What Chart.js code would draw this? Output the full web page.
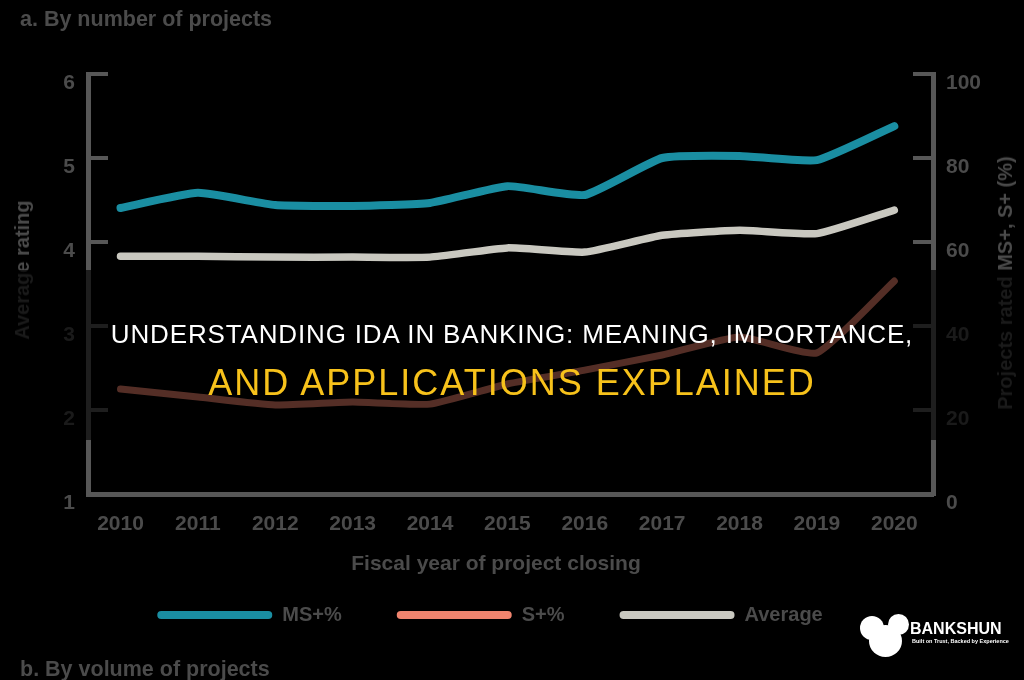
<!DOCTYPE html>
<html>
<head>
<meta charset="utf-8">
<script src="https://cdn.jsdelivr.net/npm/chart.js@4.4.1/dist/chart.umd.min.js"></script>
<style>
  html, body { margin: 0; padding: 0; background: #000; }
  #wrap { position: relative; width: 1024px; height: 680px; overflow: hidden; background: #000;
          font-family: "Liberation Sans", Arial, sans-serif; }
  #chart { position: absolute; left: 0; top: 0; z-index: 1; }
  .txt { position: absolute; z-index: 1; color: #4b4b4b; font-weight: bold; font-size: 21px;
         line-height: 21px; white-space: nowrap; }
  .rot { transform: translate(-50%, -50%) rotate(-90deg); font-size: 20px; line-height: 20px; }
  #band { position: absolute; left: 0; top: 270px; width: 1024px; height: 170px;
          background: rgba(0, 0, 0, 0.65); z-index: 2; }
  .head { position: absolute; left: 0; width: 1024px; text-align: center; z-index: 3; white-space: nowrap; }
  #h1 { top: 321px; color: #fff; font-size: 26px; line-height: 26px; letter-spacing: 0.85px; }
  #h2 { top: 365px; color: #f7c21b; font-size: 36px; line-height: 36px; letter-spacing: 2px; }
  .blob { position: absolute; background: #fff; border-radius: 50%; z-index: 3; }
  #brand { position: absolute; left: 910px; top: 621px; color: #fff; font-weight: bold; font-size: 16px;
           line-height: 16px; z-index: 3; }
  #tag { position: absolute; left: 912px; top: 638px; color: #fff; font-weight: bold; font-size: 5.5px;
         line-height: 6px; z-index: 3; white-space: nowrap; }
</style>
</head>
<body>
<div id="wrap">
  <canvas id="chart" width="1024" height="680"></canvas>
  <div class="txt" style="left:20px; top:9px; font-size:21.5px;">a. By number of projects</div>
  <div class="txt rot" style="left:22px; top:270px;">Average rating</div>
  <div class="txt rot" style="left:1005px; top:283px;">Projects rated MS+, S+ (%)</div>
  <div class="txt" style="left:496px; top:552px; transform: translateX(-50%);">Fiscal year of project closing</div>
  <div class="txt" style="left:20px; top:659px; font-size:21.5px;">b. By volume of projects</div>
  <div id="band"></div>
  <div class="head" id="h1">UNDERSTANDING IDA IN BANKING: MEANING, IMPORTANCE,</div>
  <div class="head" id="h2">AND APPLICATIONS EXPLAINED</div>
  <div class="blob" style="left:860px; top:616px; width:24px; height:24px;"></div>
  <div class="blob" style="left:888px; top:614px; width:21px; height:21px;"></div>
  <div class="blob" style="left:869px; top:625px; width:33px; height:32px;"></div>
  <div id="brand">BANKSHUN</div>
  <div id="tag">Built on Trust, Backed by Experience</div>
</div>
<script>
const years = [2010, 2011, 2012, 2013, 2014, 2015, 2016, 2017, 2018, 2019, 2020];
const msPlus = [68.1, 71.7, 68.8, 68.6, 69.3, 73.3, 71.2, 80.0, 80.5, 79.5, 87.6];
const sPlus = [25.0, 23.1, 21.2, 21.9, 21.4, 26.2, 29.5, 33.1, 37.4, 33.6, 50.7];
const avgRating = [3.83, 3.83, 3.82, 3.82, 3.82, 3.93, 3.88, 4.08, 4.14, 4.10, 4.38];

const teal = '#1a8ea2';
const salmon = '#f0846e';
const grey = '#c9c8c0';
const axisGrey = '#575757';
const textGrey = '#4b4b4b';
const tickFont = { family: '"Liberation Sans", Arial, sans-serif', size: 21, weight: 'bold' };

function pts(values) {
  return years.map((y, i) => ({ x: y, y: values[i] }));
}

// legend sits a little left of centre in the original
const legendShift = {
  id: 'legendShift',
  afterLayout(chart) { chart.legend.left -= 44; }
};

new Chart(document.getElementById('chart'), {
  type: 'line',
  data: {
    datasets: [
      { label: 'MS+%', data: pts(msPlus), yAxisID: 'y1', borderColor: teal, backgroundColor: teal, borderWidth: 8 },
      { label: 'S+%', data: pts(sPlus), yAxisID: 'y1', borderColor: salmon, backgroundColor: salmon, borderWidth: 7 },
      { label: 'Average', data: pts(avgRating), yAxisID: 'y', borderColor: grey, backgroundColor: grey, borderWidth: 7.5 }
    ]
  },
  plugins: [legendShift],
  options: {
    responsive: false,
    animation: false,
    layout: { padding: { top: 74, left: 0, right: 0, bottom: 45 } },
    elements: {
      line: { tension: 0.15, borderCapStyle: 'round', borderJoinStyle: 'round' },
      point: { radius: 0, hoverRadius: 0 }
    },
    plugins: {
      tooltip: { enabled: false },
      legend: {
        position: 'bottom',
        labels: {
          boxWidth: 115,
          boxHeight: 8,
          padding: 55,
          color: textGrey,
          font: { family: '"Liberation Sans", Arial, sans-serif', size: 20, weight: 'bold' },
          useBorderRadius: true,
          borderRadius: 4,
          generateLabels: chart => Chart.defaults.plugins.legend.labels.generateLabels(chart)
            .map(item => ({ ...item, lineWidth: 0 }))
        }
      }
    },
    scales: {
      x: {
        type: 'linear',
        min: 2009.58,
        max: 2020.5,
        afterFit: s => { s.height = 56; },
        grid: { display: true, drawOnChartArea: false, drawTicks: false, color: axisGrey },
        border: { color: axisGrey, width: 5 },
        ticks: {
          stepSize: 1, includeBounds: false, autoSkip: false, maxRotation: 0,
          callback: v => String(v),
          color: textGrey, font: tickFont, padding: 18
        }
      },
      y: {
        position: 'left',
        min: 1,
        max: 6,
        afterFit: s => { s.width = 88; },
        grid: { drawOnChartArea: false, color: axisGrey, lineWidth: 4, tickLength: -20 },
        border: { color: axisGrey, width: 5 },
        ticks: { stepSize: 1, padding: 33, labelOffset: 9, color: textGrey, font: tickFont }
      },
      y1: {
        position: 'right',
        min: 0,
        max: 100,
        afterFit: s => { s.width = 91; },
        grid: { drawOnChartArea: false, color: axisGrey, lineWidth: 4, tickLength: -20 },
        border: { color: axisGrey, width: 5 },
        ticks: { stepSize: 20, padding: 33, labelOffset: 9, color: textGrey, font: tickFont }
      }
    }
  }
});
</script>
</body>
</html>
